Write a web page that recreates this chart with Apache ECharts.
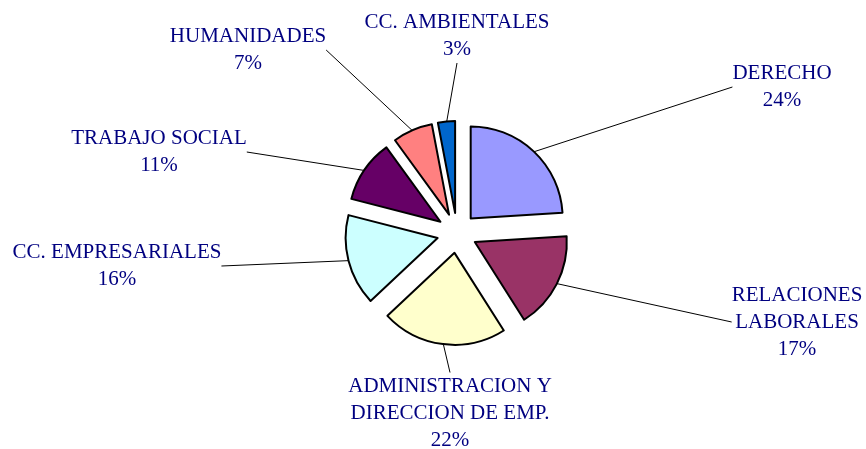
<!DOCTYPE html>
<html>
<head>
<meta charset="utf-8">
<script src="https://cdn.jsdelivr.net/npm/echarts@6/dist/echarts.min.js"></script>
<style>
  html, body { margin: 0; padding: 0; background: #fff; }
  #chart { width: 866px; height: 449px; }
</style>
</head>
<body>
<div id="chart"></div>
<script>
// Categories, clockwise from 12 o'clock
const categories = [
  'DERECHO',
  'RELACIONES\nLABORALES',
  'ADMINISTRACION Y\nDIRECCION DE EMP.',
  'CC. EMPRESARIALES',
  'TRABAJO SOCIAL',
  'HUMANIDADES',
  'CC. AMBIENTALES'
];
// Share of each category (%)
const shares = [24, 17, 22, 16, 11, 7, 3];
// Slice colours
const colors = ['#9999FF', '#993366', '#FFFFCC', '#CCFFFF', '#660066', '#FF8080', '#0066CC'];
// Label centres (layout only)
const labelPos = [
  [782, 87],
  [797, 322],
  [450, 413],
  [117, 266],
  [159, 152],
  [248, 50],
  [457, 36]
];

const chart = echarts.init(document.getElementById('chart'));

const CENTER = [457, 233];
const RADIUS = 92;
const EXPLODE = 20;

// Build pie data
const sliceData = [];
const labelData = [];
for (let i = 0; i < categories.length; i++) {
  sliceData.push({
    name: categories[i],
    value: shares[i],
    selected: true,
    itemStyle: { color: colors[i] }
  });
  labelData.push({
    name: categories[i],
    value: shares[i]
  });
}

const option = {
  animation: false,
  series: [{
    // exploded slices
    type: 'pie',
    z: 2,
    center: CENTER,
    radius: RADIUS,
    startAngle: 90,
    clockwise: true,
    selectedMode: 'multiple',
    selectedOffset: EXPLODE,
    silent: true,
    data: sliceData,
    itemStyle: {
      borderColor: '#000',
      borderWidth: 2
    },
    select: {
      itemStyle: { borderColor: '#000', borderWidth: 2 }
    },
    emphasis: { disabled: true },
    label: { show: false },
    labelLine: { show: false }
  }, {
    // invisible ring that carries the labels and leader lines
    type: 'pie',
    z: 1,
    center: CENTER,
    radius: RADIUS + EXPLODE - 1,
    startAngle: 90,
    clockwise: true,
    silent: true,
    data: labelData,
    itemStyle: {
      color: 'rgba(0,0,0,0)',
      borderWidth: 0
    },
    emphasis: { disabled: true },
    label: {
      show: true,
      position: 'outside',
      formatter: '{b}\n{d}%',
      fontFamily: '"Liberation Serif", "Times New Roman", serif',
      fontSize: 21,
      lineHeight: 27,
      color: '#000080',
      align: 'center'
    },
    labelLine: {
      show: true,
      smooth: false,
      length: 10,
      length2: 0,
      lineStyle: { color: '#000', width: 1 }
    },
    labelLayout: function (params) {
      const p = labelPos[params.dataIndex];
      return {
        x: p[0],
        y: p[1],
        align: 'center',
        verticalAlign: 'middle'
      };
    }
  }]
};

chart.setOption(option);
</script>
</body>
</html>
